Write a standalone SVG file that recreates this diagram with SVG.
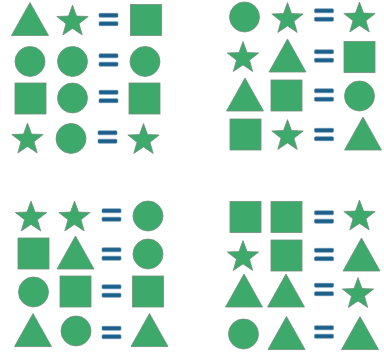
<svg xmlns="http://www.w3.org/2000/svg" xmlns:xlink="http://www.w3.org/1999/xlink" width="384" height="356" viewBox="0 0 384 356">
<style>
.s{fill:#3daa6b;stroke:#6f8f7c;stroke-width:0.8}
.e{fill:#1c5f88;stroke:#5a8db0;stroke-width:0.6}
</style>
<defs>
<circle id="ci" class="s" cx="0" cy="0" r="15"/>
<rect id="sq" class="s" x="-15.5" y="-15.5" width="31" height="31"/>
<polygon id="tr" class="s" points="0,-16.5 18.5,16.5 -18.5,16.5"/>
<polygon id="st" class="s" points="0,-14.9 4,-3.9 15.69,-3.5 6.47,3.7 9.7,14.95 0,8.4 -9.7,14.95 -6.47,3.7 -15.69,-3.5 -4,-3.9"/>
<g id="eq"><rect class="e" x="-9.5" y="-6.2" width="19" height="4" rx="1"/><rect class="e" x="-9.5" y="2.2" width="19" height="4" rx="1"/></g>
</defs>
<rect width="384" height="356" fill="#ffffff"/>
<g id="puzzle1">
<use href="#tr" x="30" y="19"/><use href="#st" x="72.5" y="20"/><use href="#eq" x="108.5" y="19.5"/><use href="#sq" x="146" y="20"/>
<use href="#ci" x="30" y="61.5"/><use href="#ci" x="72.5" y="61.5"/><use href="#eq" x="108.5" y="60"/><use href="#ci" x="145" y="61.5"/>
<use href="#sq" x="30.5" y="98.5"/><use href="#ci" x="72.5" y="98"/><use href="#eq" x="108.5" y="96.5"/><use href="#sq" x="144.5" y="98.5"/>
<use href="#st" x="27.5" y="138"/><use href="#ci" x="71" y="138.5"/><use href="#eq" x="107.5" y="137"/><use href="#st" x="143.5" y="138.5"/>
</g>
<g id="puzzle2">
<use href="#ci" x="244.5" y="17"/><use href="#st" x="287.5" y="17.5"/><use href="#eq" x="324" y="15"/><use href="#st" x="359.5" y="17"/>
<use href="#st" x="243" y="56.5"/><use href="#tr" x="287.5" y="55.5"/><use href="#eq" x="324" y="56"/><use href="#sq" x="359.5" y="57"/>
<use href="#tr" x="245" y="94.5"/><use href="#sq" x="286.5" y="95.5"/><use href="#eq" x="324" y="95"/><use href="#ci" x="359.5" y="96"/>
<use href="#sq" x="245.5" y="134.5"/><use href="#st" x="287.5" y="134.5"/><use href="#eq" x="324" y="134.5"/><use href="#tr" x="363" y="133.5"/>
</g>
<g id="puzzle3">
<use href="#st" x="31" y="216"/><use href="#st" x="74.5" y="216"/><use href="#eq" x="111.5" y="215"/><use href="#ci" x="148" y="216"/>
<use href="#sq" x="33.5" y="253.5"/><use href="#tr" x="75.5" y="252.5"/><use href="#eq" x="111.5" y="254"/><use href="#ci" x="148" y="254"/>
<use href="#ci" x="33.5" y="292"/><use href="#sq" x="75.5" y="291.5"/><use href="#eq" x="111.5" y="291"/><use href="#sq" x="148" y="291.5"/>
<use href="#tr" x="33" y="330"/><use href="#ci" x="76" y="331"/><use href="#eq" x="111.5" y="332.5"/><use href="#tr" x="149.5" y="330"/>
</g>
<g id="puzzle4">
<use href="#sq" x="245.5" y="217"/><use href="#sq" x="286.5" y="217"/><use href="#eq" x="324" y="217"/><use href="#st" x="359.5" y="215"/>
<use href="#st" x="243" y="255.5"/><use href="#sq" x="286.5" y="255.5"/><use href="#eq" x="324" y="254.5"/><use href="#tr" x="361.5" y="254.5"/>
<use href="#tr" x="244" y="290.5"/><use href="#tr" x="286" y="290.5"/><use href="#eq" x="324" y="289.5"/><use href="#st" x="358" y="292.5"/>
<use href="#ci" x="243.5" y="334"/><use href="#tr" x="286.5" y="333"/><use href="#eq" x="324" y="332"/><use href="#tr" x="360" y="333"/>
</g>
</svg>
